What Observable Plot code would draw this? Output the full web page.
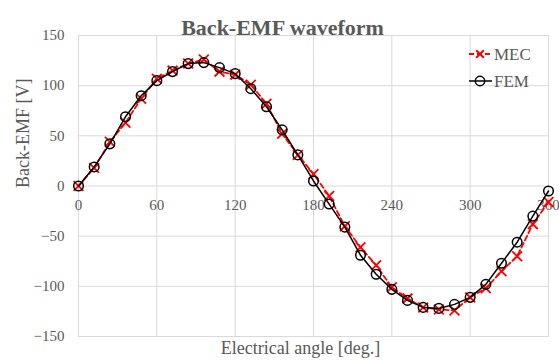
<!DOCTYPE html>
<html>
<head>
<meta charset="utf-8">
<script src="https://cdn.jsdelivr.net/npm/d3@7"></script>
<script src="https://cdn.jsdelivr.net/npm/@observablehq/plot@0.6"></script>
<style>
  html, body { margin: 0; padding: 0; background: white; }
</style>
</head>
<body>
<div id="chart"></div>
<script>
const angles = [0, 12, 24, 36, 48, 60, 72, 84, 96, 108, 120, 132, 144, 156, 168, 180, 192, 204, 216, 228, 240, 252, 264, 276, 288, 300, 312, 324, 336, 348, 360];
const mecValues = [0, 18, 44, 63, 87, 107, 115, 122, 126, 114, 111, 101, 82, 52, 31, 12, -10, -40, -61, -79, -101, -112, -121, -123, -124, -111, -102, -85, -70, -38, -16];
const femValues = [0, 19, 42, 69, 90, 105, 114, 122, 123, 118, 112, 97, 79, 56, 31, 5, -18, -41, -69, -88, -103, -114, -121, -122, -118, -111, -98, -77, -56, -30, -5];
const xTicks = [0, 60, 120, 180, 240, 300, 360];
const yTicks = [-150, -100, -50, 0, 50, 100, 150];
const seriesNames = ["MEC", "FEM"];
const titleText = "Back-EMF waveform";
const xTitle = "Electrical angle [deg.]";
const yTitle = "Back-EMF [V]";

const mec = angles.map((a, i) => ({angle: a, value: mecValues[i]}));
const fem = angles.map((a, i) => ({angle: a, value: femValues[i]}));

const textColor = "#595959";
const gridColor = "#d9d9d9";
const font = "'Liberation Serif', 'Times New Roman', serif";

const chart = Plot.plot({
  width: 559,
  height: 361,
  marginLeft: 78,
  marginRight: 11,
  marginTop: 35,
  marginBottom: 25,
  style: {fontFamily: font, fontSize: "15px", color: textColor, background: "white", overflow: "visible"},
  x: {domain: [0, 360], axis: null},
  y: {domain: [-150, 150]},
  marks: [
    Plot.gridX(xTicks, {stroke: gridColor, strokeOpacity: 1, strokeWidth: 1}),
    Plot.gridY(yTicks, {stroke: gridColor, strokeOpacity: 1, strokeWidth: 1}),
    Plot.frame({stroke: gridColor, strokeWidth: 1}),
    Plot.axisY(yTicks, {tickSize: 0, tickPadding: 14, label: null, fill: textColor, fontSize: 15}),
    Plot.text(xTicks, {x: d => d, y: 0, dy: 19, fill: textColor, fontSize: 15}),
    Plot.line(mec, {x: "angle", y: "value", stroke: "#ff0000", strokeWidth: 1.8, strokeDasharray: "5,3"}),
    Plot.dot(mec, {x: "angle", y: "value", symbol: "times", r: 4.5, stroke: "#ff0000", strokeWidth: 1.8}),
    Plot.line(fem, {x: "angle", y: "value", stroke: "#000000", strokeWidth: 1.5}),
    Plot.dot(fem, {x: "angle", y: "value", r: 4.8, stroke: "#000000", strokeWidth: 1.5, fill: "none"}),
    Plot.text([titleText], {frameAnchor: "top", dx: -31, dy: -16, fontSize: 22, fontWeight: "bold", fill: textColor}),
    Plot.text([xTitle], {frameAnchor: "bottom", dx: -13, dy: 17, fontSize: 18, fill: textColor}),
    Plot.text([yTitle], {frameAnchor: "left", dx: -55, dy: 2, rotate: -90, fontSize: 18, fill: textColor})
  ]
});

document.getElementById("chart").appendChild(chart);

// Legend (inside plot, top right)
const svg = d3.select(chart);
const legend = svg.append("g").attr("font-family", font).attr("font-size", 17)
  .attr("fill", textColor).attr("text-anchor", "start");
const items = [
  {name: seriesNames[0], y: 54, color: "#ff0000", dash: "5,3", symbol: "times"},
  {name: seriesNames[1], y: 81, color: "#000000", dash: null, symbol: "circle"}
];
items.forEach(it => {
  const g = legend.append("g");
  g.append("line").attr("x1", 469).attr("x2", 492).attr("y1", it.y).attr("y2", it.y)
    .attr("stroke", it.color).attr("stroke-width", it.dash ? 1.8 : 1.5)
    .attr("stroke-dasharray", it.dash);
  if (it.symbol === "times") {
    const s = 3.8;
    g.append("path").attr("d", `M${480 - s},${it.y - s}L${480 + s},${it.y + s}M${480 - s},${it.y + s}L${480 + s},${it.y - s}`)
      .attr("stroke", it.color).attr("stroke-width", 2).attr("fill", "none");
  } else {
    g.append("circle").attr("cx", 480).attr("cy", it.y).attr("r", 4.7)
      .attr("stroke", it.color).attr("stroke-width", 1.5).attr("fill", "none");
  }
  g.append("text").attr("x", 494).attr("y", it.y).attr("dy", "0.35em").attr("text-anchor", "start").text(it.name);
});
</script>
</body>
</html>
